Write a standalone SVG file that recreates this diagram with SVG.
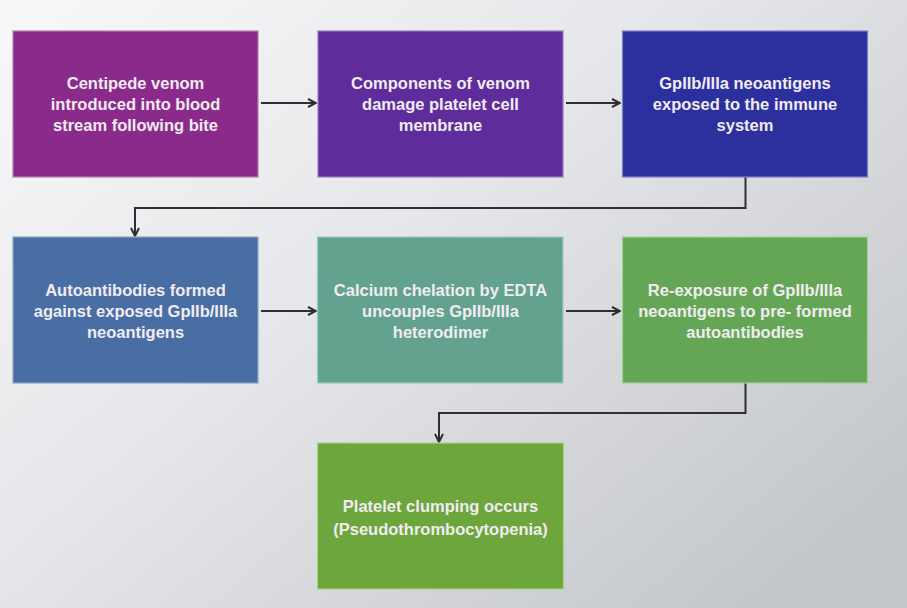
<svg xmlns="http://www.w3.org/2000/svg" width="907" height="608" viewBox="0 0 907 608">
<defs>
<linearGradient id="bg" x1="0" y1="0" x2="1" y2="0.8">
<stop offset="0" stop-color="#f8f8f9"/>
<stop offset="0.45" stop-color="#e6e7ea"/>
<stop offset="1" stop-color="#c3c6cb"/>
</linearGradient>
<marker id="ah" viewBox="0 0 10 10" refX="9" refY="5" markerWidth="5" markerHeight="5" orient="auto" markerUnits="strokeWidth">
<path d="M1,1 L9,5 L1,9" fill="none" stroke="#2e2e33" stroke-width="2" stroke-linejoin="miter"/>
</marker>
<style>
.box{stroke-width:1.2}
.t{font-family:"Liberation Sans",Arial,sans-serif;font-weight:bold;font-size:16.5px;fill:#f1ecf2;text-anchor:middle}
.c{fill:none;stroke:#2e2e33;stroke-width:2}
</style>
</defs>
<rect width="907" height="608" fill="url(#bg)"/>
<g id="connectors">
<path class="c" d="M261,103 H316" marker-end="url(#ah)"/>
<path class="c" d="M566,103 H620" marker-end="url(#ah)"/>
<path class="c" d="M745.5,177 V208 H135 V236" marker-end="url(#ah)"/>
<path class="c" d="M261,311 H316" marker-end="url(#ah)"/>
<path class="c" d="M566,311 H620" marker-end="url(#ah)"/>
<path class="c" d="M745.5,383 V413 H439 V442" marker-end="url(#ah)"/>
</g>
<g id="n1">
<rect class="box" x="13" y="31" width="245" height="146" fill="#8a2b8b" stroke="#b47cb6"/>
<text class="t" x="135.5" y="89">Centipede venom</text>
<text class="t" x="135.5" y="110">introduced into blood</text>
<text class="t" x="135.5" y="131">stream following bite</text>
</g>
<g id="n2">
<rect class="box" x="318" y="31" width="245" height="146" fill="#5e2c9b" stroke="#9a7cc4"/>
<text class="t" x="440.5" y="89">Components of venom</text>
<text class="t" x="440.5" y="110">damage platelet cell</text>
<text class="t" x="440.5" y="131">membrane</text>
</g>
<g id="n3">
<rect class="box" x="622.5" y="31" width="245" height="146" fill="#2b309e" stroke="#7c80c4"/>
<text class="t" x="745" y="89">GpIIb/IIIa neoantigens</text>
<text class="t" x="745" y="110">exposed to the immune</text>
<text class="t" x="745" y="131">system</text>
</g>
<g id="n4">
<rect class="box" x="13" y="237" width="245" height="146" fill="#486ea3" stroke="#8aa4c6"/>
<text class="t" x="135.5" y="296">Autoantibodies formed</text>
<text class="t" x="135.5" y="317">against exposed GpIIb/IIIa</text>
<text class="t" x="135.5" y="338">neoantigens</text>
</g>
<g id="n5">
<rect class="box" x="317.5" y="237" width="245.5" height="146" fill="#62a28f" stroke="#9fcabd"/>
<text class="t" x="440.5" y="296">Calcium chelation by EDTA</text>
<text class="t" x="440.5" y="317">uncouples GpIIb/IIIa</text>
<text class="t" x="440.5" y="338">heterodimer</text>
</g>
<g id="n6">
<rect class="box" x="622.5" y="237" width="245" height="146" fill="#64a656" stroke="#a3d096"/>
<text class="t" x="745" y="296">Re-exposure of GpIIb/IIIa</text>
<text class="t" x="745" y="317">neoantigens to pre- formed</text>
<text class="t" x="745" y="338">autoantibodies</text>
</g>
<g id="n7">
<rect class="box" x="317.5" y="443" width="246" height="146" fill="#6ca63d" stroke="#a8d38a"/>
<text class="t" x="440.5" y="512">Platelet clumping occurs</text>
<text class="t" x="440.5" y="535">(Pseudothrombocytopenia)</text>
</g>
</svg>
